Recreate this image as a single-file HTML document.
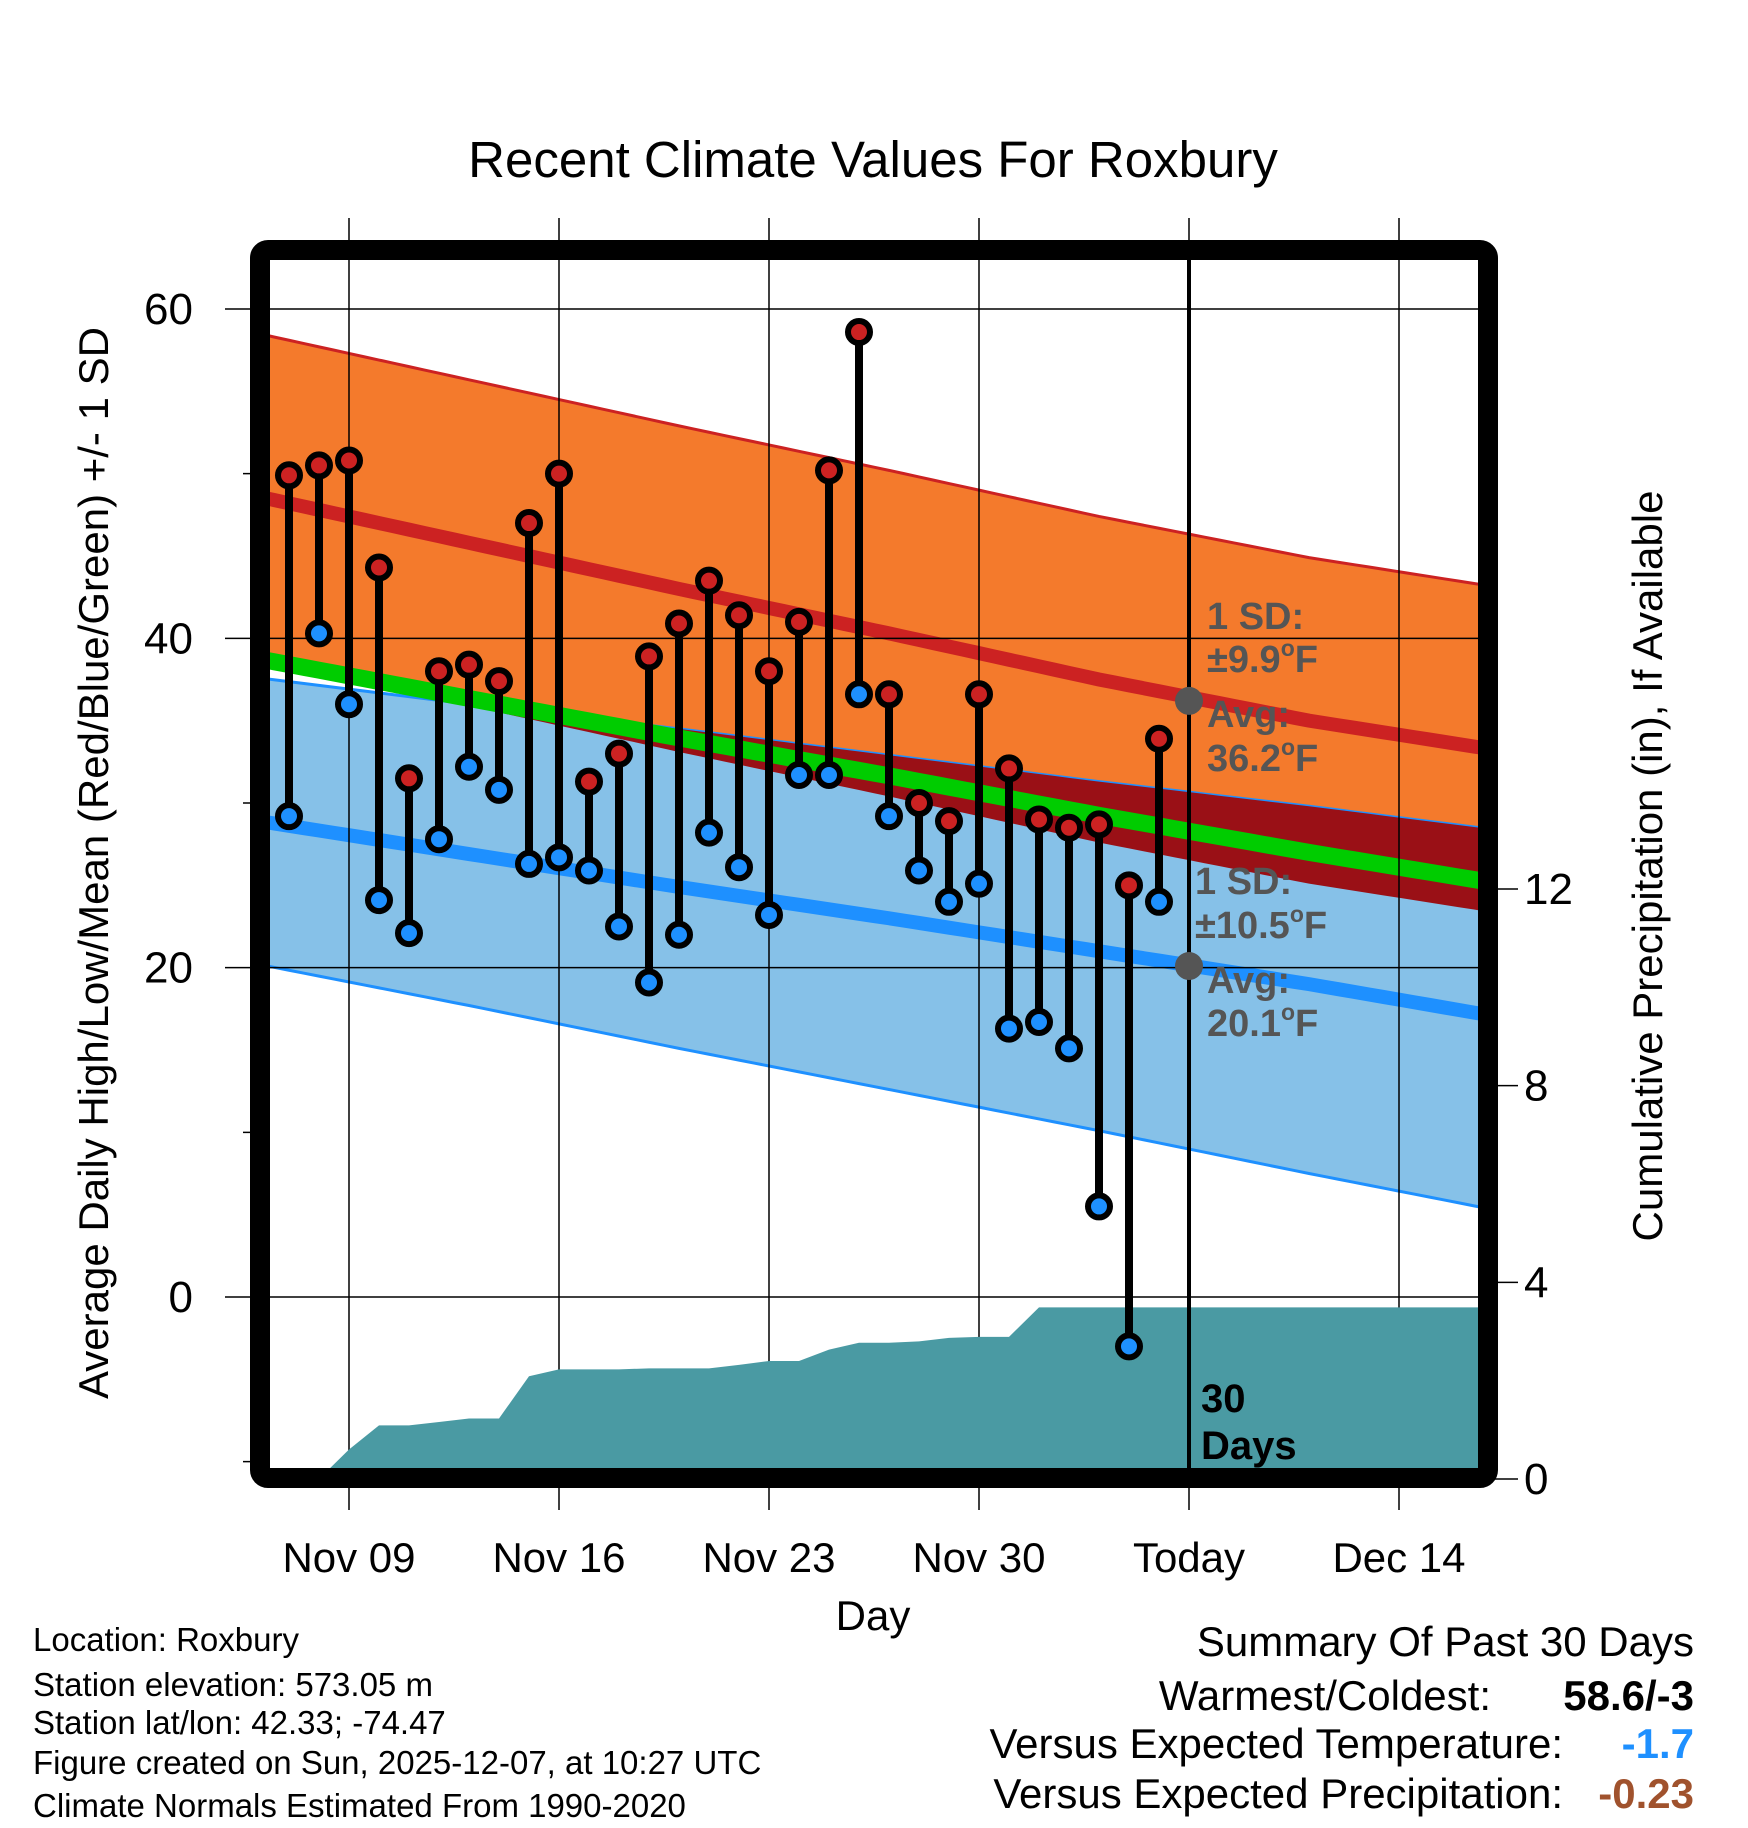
<!DOCTYPE html>
<html><head><meta charset="utf-8"><style>
html,body{margin:0;padding:0;background:#fff;}
svg{display:block;font-family:"Liberation Sans",Arial,sans-serif;}
</style></head><body>
<svg id="chart" width="1748" height="1828" viewBox="0 0 1748 1828" xmlns="http://www.w3.org/2000/svg">
<defs><clipPath id="plotclip"><rect x="270" y="260" width="1209" height="1210"/></clipPath></defs>
<rect width="1748" height="1828" fill="#fff"/>
<text x="873" y="177" font-size="51" text-anchor="middle">Recent Climate Values For Roxbury</text>
<g id="bands" clip-path="url(#plotclip)"></g>
<g id="grid"></g>
<g id="precip" clip-path="url(#plotclip)"></g>
<g id="marks"></g>
<g id="annot" font-weight="bold" fill="#555" font-size="38"></g>
<rect x="260" y="250" width="1228" height="1228" rx="8" fill="none" stroke="#000" stroke-width="20"/>
<g id="axes"></g>
<text transform="translate(108,863) rotate(-90)" font-size="42" text-anchor="middle">Average Daily High/Low/Mean (Red/Blue/Green) +/- 1 SD</text>
<text transform="translate(1662,866) rotate(-90)" font-size="42" text-anchor="middle">Cumulative Precipitation (in), If Available</text>
<text x="873" y="1630" font-size="42" text-anchor="middle">Day</text>
<g font-size="33">
<text x="33" y="1651">Location: Roxbury</text>
<text x="33" y="1696">Station elevation: 573.05 m</text>
<text x="33" y="1734">Station lat/lon: 42.33; -74.47</text>
<text x="33" y="1774">Figure created on Sun, 2025-12-07, at 10:27 UTC</text>
<text x="33" y="1817">Climate Normals Estimated From 1990-2020</text>
</g>
<g font-size="42" text-anchor="end">
<text x="1694" y="1656">Summary Of Past 30 Days</text>
<text x="1491" y="1710">Warmest/Coldest:</text>
<text x="1694" y="1710" font-weight="bold">58.6/-3</text>
<text x="1563" y="1758">Versus Expected Temperature:</text>
<text x="1694" y="1758" font-weight="bold" fill="#1e90ff">-1.7</text>
<text x="1563" y="1808">Versus Expected Precipitation:</text>
<text x="1694" y="1808" font-weight="bold" fill="#a0522d">-0.23</text>
</g>
</svg>
<script>
// ---- data ----
const dayOffsets = [-2,-1,0,1,2,3,4,5,6,7,8,9,10,11,12,13,14,15,16,17,18,19,20,21,22,23,24,25,26,27];
const highs = [49.9,50.5,50.8,44.3,31.5,38.0,38.4,37.4,47.0,50.0,31.3,33.0,38.9,40.9,43.5,41.4,38.0,41.0,50.2,58.6,36.6,30.0,28.9,36.6,32.1,29.0,28.5,28.7,25.0,33.9];
const lows = [29.2,40.3,36.0,24.1,22.1,27.8,32.2,30.8,26.3,26.7,25.9,22.5,19.1,22.0,28.2,26.1,23.2,31.7,31.7,36.6,29.2,25.9,24.0,25.1,16.3,16.7,15.1,5.5,-3.0,24.0];
const precip = [0,0,0.6,1.09,1.09,1.16,1.23,1.23,2.09,2.23,2.23,2.23,2.25,2.25,2.25,2.32,2.40,2.40,2.63,2.77,2.77,2.80,2.87,2.89,2.89,3.49,3.49,3.49,3.49,3.49];
const normalDays = [-3,4,11,18,25,32,39];
const normHighMean = [48.6,45.8,43.0,40.3,37.5,35.0,33.0];
const highSD = 9.9;
const normLowMean = [28.9,26.9,24.9,23.0,21.0,19.0,16.8];
const lowBandUpper = [37.6,36.0,34.5,32.9,31.3,29.8,28.2];
const lowBandLower = [20.2,17.7,15.1,12.6,10.1,7.5,5.0];
const xTickDays = [0,7,14,21,28,35];
const xTickLabels = ["Nov 09","Nov 16","Nov 23","Nov 30","Today","Dec 14"];
const yTicks = [0,20,40,60];
const yMinor = [-10,10,30,50];
const y2Ticks = [0,4,8,12];
const todayDay = 28;
const todayHigh = 36.2, todayLow = 20.1;

// ---- scales ----
const x = d => 349 + 30*d;
const y = t => 1297 - t*16.467;
const yp = p => 1479 - p*49.17;
const NS = "http://www.w3.org/2000/svg";
function mk(tag, parent, attrs){const e=document.createElementNS(NS,tag);for(const k in attrs)e.setAttribute(k,attrs[k]);parent.appendChild(e);return e;}
function interp(arr, d){
  for(let i=0;i<normalDays.length-1;i++){
    if(d<=normalDays[i+1]||i===normalDays.length-2){const f=(d-normalDays[i])/(normalDays[i+1]-normalDays[i]);return arr[i]+f*(arr[i+1]-arr[i]);}
  }
}
const bands=document.getElementById('bands');
const samples=[];for(let d=-3;d<=39.001;d+=0.5)samples.push(d);
const hu=d=>interp(normHighMean,d)+highSD, hl=d=>interp(normHighMean,d)-highSD;
function bandPath(up,lo){
  let s=samples.map((d,i)=>(i?'L':'M')+x(d)+','+y(up(d))).join(' ');
  s+=' '+samples.slice().reverse().map(d=>'L'+x(d)+','+y(lo(d))).join(' ')+' Z';return s;
}
let p=mk('path',bands,{d:bandPath(hu,hl),fill:'#f47a2c'});

p=mk('polyline',bands,{points:samples.map(d=>x(d)+','+y(hu(d))).join(' '),fill:'none',stroke:'#cc2222','stroke-width':3});

const lu=d=>interp(lowBandUpper,d), ll=d=>interp(lowBandLower,d);
p=mk('path',bands,{d:bandPath(lu,ll),fill:'#86c1e8'});

for(const f of [lu,ll]){p=mk('polyline',bands,{points:samples.map(d=>x(d)+','+y(f(d))).join(' '),fill:'none',stroke:'#1e90ff','stroke-width':3});
}
const ovU=d=>Math.min(hu(d),lu(d)), ovL=d=>Math.max(hl(d),ll(d));
const ovS=samples.filter(d=>ovU(d)>ovL(d));
if(ovS.length){let s=ovS.map((d,i)=>(i?'L':'M')+x(d)+','+y(ovU(d))).join(' ')+' '+ovS.slice().reverse().map(d=>'L'+x(d)+','+y(ovL(d))).join(' ')+' Z';
p=mk('path',bands,{d:s,fill:'#9a1016'});}
p=mk('polyline',bands,{points:samples.map(d=>x(d)+','+y((interp(normHighMean,d)+interp(normLowMean,d))/2)).join(' '),fill:'none',stroke:'#00cc00','stroke-width':17});

p=mk('polyline',bands,{points:samples.map(d=>x(d)+','+y(interp(normHighMean,d))).join(' '),fill:'none',stroke:'#cc2222','stroke-width':14});

p=mk('polyline',bands,{points:samples.map(d=>x(d)+','+y(interp(normLowMean,d))).join(' '),fill:'none',stroke:'#1e90ff','stroke-width':14});


// grid
const grid=document.getElementById('grid');
xTickDays.forEach(d=>{p=mk('line',grid,{x1:x(d),x2:x(d),y1:218,y2:1478,stroke:'#000','stroke-width':1.5});

p=mk('line',grid,{x1:x(d),x2:x(d),y1:1478,y2:1510,stroke:'#000','stroke-width':1.5});
});
yTicks.forEach(t=>{p=mk('line',grid,{x1:225,x2:1479,y1:y(t),y2:y(t),stroke:'#000','stroke-width':1.5});
});
yMinor.forEach(t=>{p=mk('line',grid,{x1:243,x2:260,y1:y(t),y2:y(t),stroke:'#000','stroke-width':1.5});
});
y2Ticks.forEach(v=>{p=mk('line',grid,{x1:1488,x2:1518,y1:yp(v),y2:yp(v),stroke:'#000','stroke-width':1.5});
});

// precip
const pg=document.getElementById('precip');
let ps='M'+x(dayOffsets[0])+','+yp(0);
dayOffsets.forEach((d,i)=>{ps+=' L'+x(d)+','+yp(precip[i]);});
ps+=' L1490,'+yp(precip[precip.length-1])+' L1490,'+yp(0)+' Z';
p=mk('path',pg,{d:ps,fill:'#4a9aa3'});


// marks
const mg=document.getElementById('marks');
p=mk('line',mg,{x1:x(todayDay),x2:x(todayDay),y1:260,y2:1470,stroke:'#000','stroke-width':4});

dayOffsets.forEach((d,i)=>{
  p=mk('line',mg,{x1:x(d),x2:x(d),y1:y(highs[i]),y2:y(lows[i]),stroke:'#000','stroke-width':8});
  
});
dayOffsets.forEach((d,i)=>{
  p=mk('circle',mg,{cx:x(d),cy:y(highs[i]),r:11,fill:'#cc2222',stroke:'#000','stroke-width':6});
  
  p=mk('circle',mg,{cx:x(d),cy:y(lows[i]),r:11,fill:'#1e90ff',stroke:'#000','stroke-width':6});
  
});
p=mk('circle',mg,{cx:x(todayDay),cy:y(todayHigh),r:14,fill:'#555'});

p=mk('circle',mg,{cx:x(todayDay),cy:y(todayLow),r:14,fill:'#555'});


// annotations
const an=document.getElementById('annot');
function txt(par,xx,yy,s,name){const e=mk('text',par,{x:xx,y:yy});e.innerHTML=s;return e;}
const deg='<tspan font-size="23" dy="-16">o</tspan><tspan dy="16">F</tspan>';
txt(an,1207,629,'1 SD:','high-sd-label');
txt(an,1207,672,'±9.9'+deg,'high-sd-value');
txt(an,1207,727,'Avg:','high-avg-label');
txt(an,1207,771,String(todayHigh)+deg,'high-avg-value');
txt(an,1195,894,'1 SD:','low-sd-label');
txt(an,1195,938,'±10.5'+deg,'low-sd-value');
txt(an,1207,993,'Avg:','low-avg-label');
txt(an,1207,1036,String(todayLow)+deg,'low-avg-value');
const dl=mk('g',an,{fill:'#000','font-size':40});
txt(dl,1201,1412,'30','days-window-label');
txt(dl,1201,1459,'Days','days-window-label-2');

// axes labels
const ax=document.getElementById('axes');
yTicks.forEach(t=>{const e=mk('text',ax,{x:193,y:y(t)+15,'font-size':44,'text-anchor':'end'});e.textContent=t;
});
y2Ticks.forEach(v=>{const e=mk('text',ax,{x:1524,y:yp(v)+15,'font-size':44});e.textContent=v;
});
xTickDays.forEach((d,i)=>{const e=mk('text',ax,{x:x(d),y:1572,'font-size':42,'text-anchor':'middle'});e.textContent=xTickLabels[i];
});
</script>
</body></html>
